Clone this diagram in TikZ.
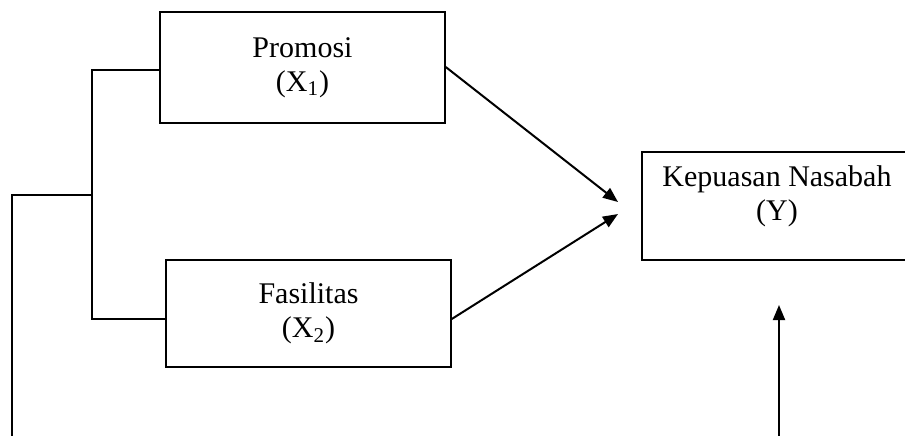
\documentclass[tikz,border=0pt]{standalone}
\usepackage{fontspec}
\setmainfont{Liberation Serif}
\usetikzlibrary{arrows.meta,positioning}

\begin{document}
\begin{tikzpicture}[
  x=0.5pt, y=-0.5pt,
  varbox/.style={draw=black, line width=0.75pt, align=center, inner sep=0pt, font=\fontsize{15}{17}\selectfont},
  link/.style={line width=1pt, draw=black},
  arrow/.style={-{Triangle[length=7.5pt,width=6pt]}, line width=1pt, draw=black}
]
\useasboundingbox (0,0) rectangle (905,435);
\clip (0,0) rectangle (905,435);
\node[varbox, minimum width=142.5pt, minimum height=55.5pt] (promosi) at (302.5,67.5) {Promosi\\(X\textsubscript{1})};
\node[varbox, minimum width=142.5pt, minimum height=53.5pt] (fasilitas) at (308.5,313.5) {Fasilitas\\(X\textsubscript{2})};
\node[varbox, minimum width=135pt, minimum height=54pt] (kepuasan) at (777,206) {Kepuasan Nasabah\\(Y)\\[-4pt]};
\coordinate (jointop) at (92,70);
\coordinate (joinbot) at (92,319);
\coordinate (joinmid) at (92,195);
\coordinate (outer) at (12,440);
\coordinate (tipa) at (618,202);
\coordinate (tipb) at (618,214);
\coordinate (upfoot) at (779,440);
\coordinate (uptip) at (779,305);
\draw[link] (promosi.west |- jointop) -- (jointop) -- (joinbot) -- (fasilitas.west |- joinbot);
\draw[link] (joinmid) -| (outer);
\draw[arrow] (promosi.east |- 0,67) -- (tipa);
\draw[arrow] (fasilitas.east |- joinbot) -- (tipb);
\draw[arrow] (upfoot) -- (uptip);
\end{tikzpicture}
\end{document}
